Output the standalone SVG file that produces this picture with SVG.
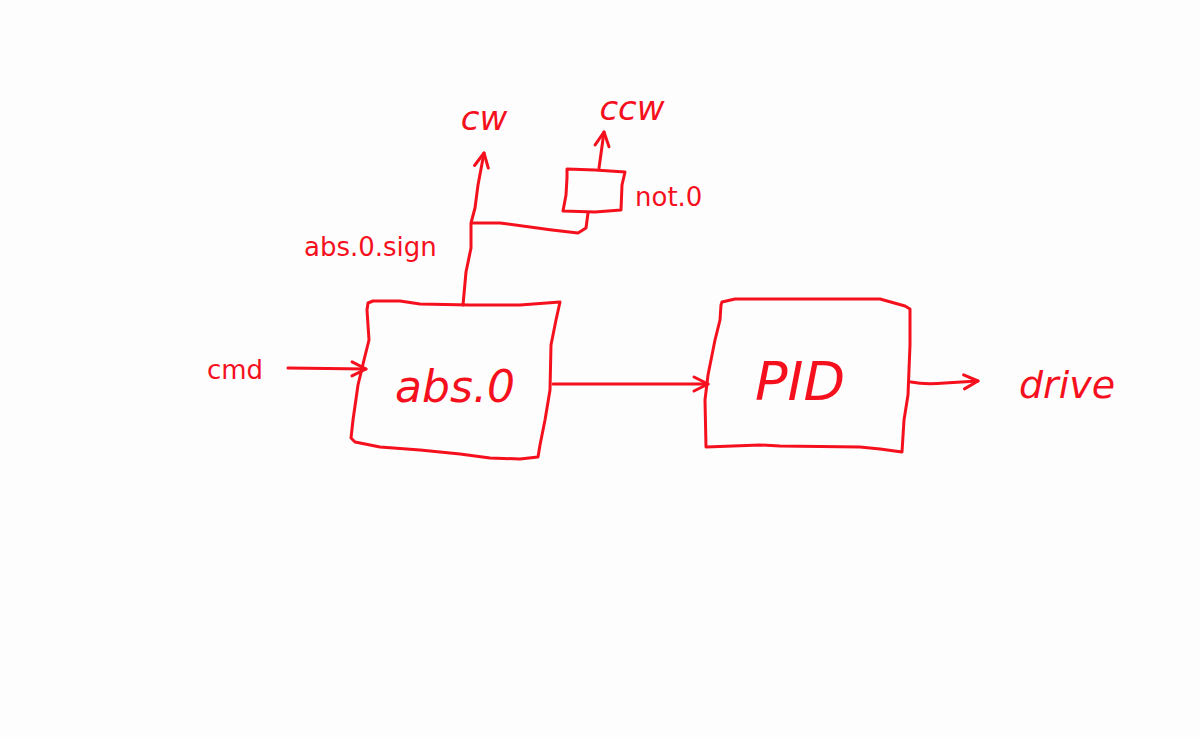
<svg xmlns="http://www.w3.org/2000/svg" width="1200" height="737" viewBox="0 0 1200 737">
<defs>
<style>
.s{fill:none;stroke:#f5101e;stroke-width:3;stroke-linecap:round;stroke-linejoin:round}
.t{fill:#f5101e;font-family:"DejaVu Sans","Noto Sans",sans-serif;font-size:26px}
.h{fill:#f5101e;font-family:"DejaVu Sans","Noto Sans",sans-serif;font-weight:300;font-style:italic}
</style>
<marker id="ah" viewBox="0 0 20 20" refX="17" refY="10" markerWidth="20" markerHeight="20" markerUnits="userSpaceOnUse" orient="auto">
<path d="M3,3 L17,10 L3,17" fill="none" stroke="#f5101e" stroke-width="3" stroke-linecap="round" stroke-linejoin="round"/>
</marker>
</defs>
<rect width="1200" height="737" fill="#fdfdfd"/>
<g id="connectors">
<path class="s" d="M288,368 L366,369" marker-end="url(#ah)"/>
<path class="s" d="M553,384 L708,384" marker-end="url(#ah)"/>
<path class="s" d="M911,382 Q925,385 945,383 L978,381" marker-end="url(#ah)"/>
<path class="s" d="M463,305 L466,272 L471,248 L471,223 L475,208 L478,185 L484,153" marker-end="url(#ah)"/>
<path class="s" d="M472,223 L500,223 L552,230 L578,233 L586,228 L588,213"/>
<path class="s" d="M599,168 L604,132" marker-end="url(#ah)"/>
</g>
<g id="abs0">
<path class="s" d="M368,303 L373,301 L400,301 L420,304 L470,305 L520,305 L560,302 L556,320 L551,345 L550,390 L545,420 L540,445 L538,457 L520,459 L490,458 L460,454 L420,450 L380,447 L355,442 L351,438 L353,420 L358,385 L364,360 L369,340 L367,310 Z"/>
<text class="h" x="455" y="402" font-size="44" text-anchor="middle">abs.0</text>
</g>
<g id="pid">
<path class="s" d="M722,302 L735,299 L780,299 L880,299 L905,306 L910,309 L910,345 L908,395 L904,420 L902,452 L880,449 L860,447 L780,446 L760,445 L706,447 L705,400 L708,375 L715,340 L720,320 L721,305 Z"/>
<text class="h" x="800" y="400" font-size="54" text-anchor="middle">PID</text>
</g>
<g id="not0">
<path class="s" d="M567,169 L595,170 L625,172 L622,185 L621,210 L595,212 L563,211 L566,195 L567,178 Z"/>
<text class="t" x="635" y="206">not.0</text>
</g>
<g id="labels">
<text class="t" x="207" y="379">cmd</text>
<text class="t" x="304" y="256">abs.0.sign</text>
<text class="h" x="484" y="130" font-size="34" text-anchor="middle">cw</text>
<text class="h" x="632" y="120" font-size="34" text-anchor="middle">ccw</text>
<text class="h" x="1067" y="398" font-size="38" text-anchor="middle">drive</text>
</g>
</svg>
